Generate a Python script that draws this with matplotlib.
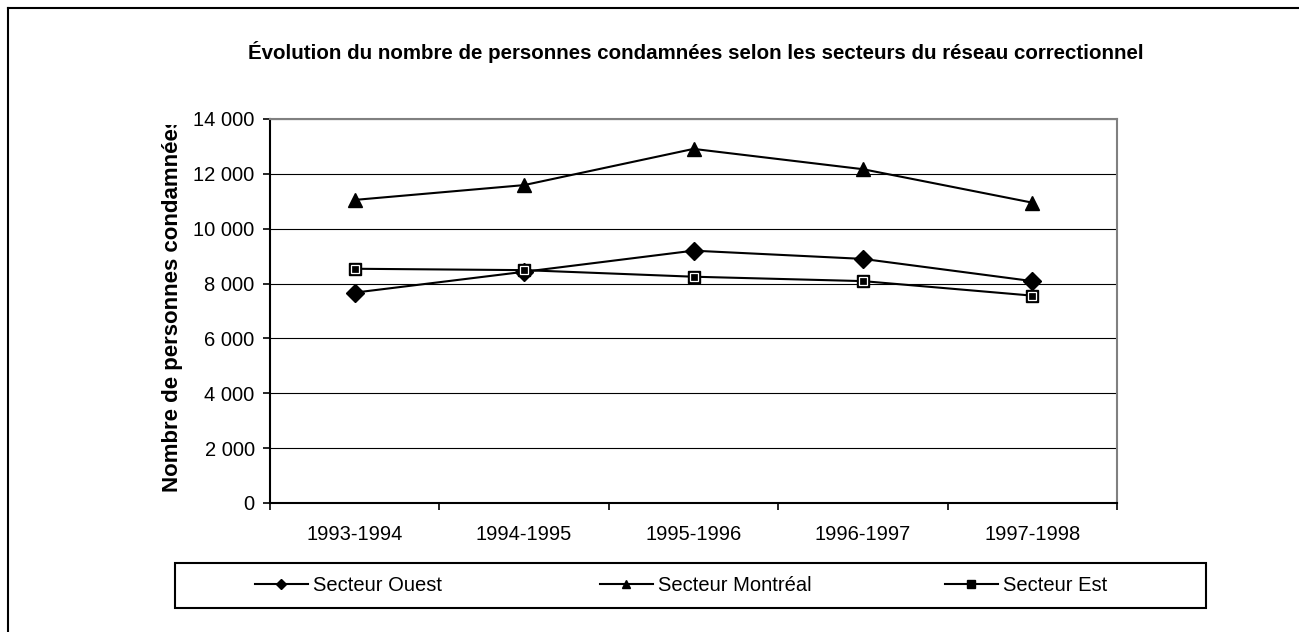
import matplotlib.pyplot as plt
from matplotlib.lines import Line2D
from matplotlib.patches import Rectangle
from matplotlib.ticker import FuncFormatter, FixedLocator

plt.rcParams['font.family'] = ['Liberation Sans', 'DejaVu Sans']

# données
annees = ['1993-1994', '1994-1995', '1995-1996', '1996-1997', '1997-1998']
secteur_ouest = [7670, 8430, 9200, 8900, 8090]
secteur_montreal = [11050, 11590, 12910, 12170, 10950]
secteur_est = [8540, 8490, 8250, 8090, 7560]

W, H = 1299, 632
fig = plt.figure(figsize=(W / 100, H / 100), dpi=100)

# cadre extérieur (gauche et haut)
fig.add_artist(Line2D([8 / W, 8 / W], [0, 1 - 8 / H], color='black', lw=1.5))
fig.add_artist(Line2D([8 / W, 1], [1 - 8 / H, 1 - 8 / H], color='black', lw=1.5))

ax = fig.add_axes([270 / W, 1 - 503 / H, (1117 - 270) / W, (503 - 119) / H])
x = list(range(len(annees)))

ax.plot(x, secteur_ouest, color='black', lw=1.5, marker='D', ms=9,
        mfc='black', mec='black', label='Secteur Ouest', zorder=3)
ax.plot(x, secteur_montreal, color='black', lw=1.5, marker='^', ms=10,
        mfc='black', mec='black', label='Secteur Montréal', zorder=3)
ax.plot(x, secteur_est, color='black', lw=1.5, marker='s', ms=9,
        mfc='black', mec='black', label='Secteur Est', zorder=3)
# reflet blanc dans le carré
ax.plot(x, secteur_est, ls='none', marker='s', ms=5.5, mfc='black',
        mec='white', mew=0.9, zorder=4)

ax.set_xlim(-0.5, len(annees) - 0.5)
ax.set_ylim(0, 14000)
ax.set_yticks(range(0, 14001, 2000))
ax.yaxis.set_major_formatter(FuncFormatter(lambda v, p: f'{int(v):,}'.replace(',', ' ')))
ax.grid(axis='y', color='black', lw=0.8)
ax.set_axisbelow(True)

ax.set_xticks(x)
ax.set_xticklabels(annees)
ax.xaxis.set_minor_locator(FixedLocator([i - 0.5 for i in range(len(annees) + 1)]))
ax.tick_params(axis='x', which='major', length=0, pad=16, labelsize=14.5)
ax.tick_params(axis='x', which='minor', length=5, width=1.2, direction='out', color='black')
ax.tick_params(axis='y', length=5, width=1.2, direction='out', pad=6, labelsize=14.5)

for s in ['left', 'bottom']:
    ax.spines[s].set_color('black')
    ax.spines[s].set_linewidth(1.5)
for s in ['top', 'right']:
    ax.spines[s].set_color('#808080')
    ax.spines[s].set_linewidth(1.5)

fig.text(696 / W, 1 - 52 / H,
         'Évolution du nombre de personnes condamnées selon les secteurs du réseau correctionnel',
         ha='center', va='center', fontsize=14.8, fontweight='bold')

# titre de l'axe y, coupé en haut comme sur l'original
ylab = fig.text(172 / W, 1 - 492 / H, 'Nombre de personnes condamnées',
                rotation=90, ha='center', va='bottom', fontsize=16, fontweight='bold')
clip = Rectangle((0, 0), 1, 1 - 125 / H, transform=fig.transFigure)
ylab.set_clip_path(clip)

# légende
fig.add_artist(Rectangle((175 / W, 1 - 608 / H), (1206 - 175) / W, (608 - 563) / H,
                         transform=fig.transFigure, fill=False, edgecolor='black', lw=1.5))
lignes = ax.get_lines()[:3]
for ligne, xpos in zip(lignes, [255, 600, 945]):
    fig.legend([ligne], [ligne.get_label()], loc='center left',
               bbox_to_anchor=(xpos / W, 1 - 585.5 / H), frameon=False,
               borderpad=0, borderaxespad=0, handlelength=2.63, handletextpad=0.25,
               markerscale=0.6, fontsize=14.5)

fig.savefig('out.png', dpi=100)
